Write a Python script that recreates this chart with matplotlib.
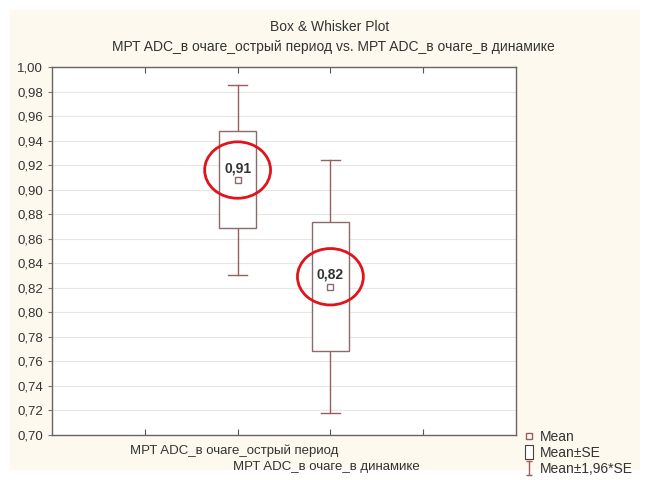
import matplotlib
matplotlib.use("Agg")
import matplotlib.pyplot as plt
from matplotlib.patches import Rectangle, Ellipse
from matplotlib.lines import Line2D
from matplotlib.path import Path
from matplotlib.transforms import blended_transform_factory
from matplotlib.ticker import FuncFormatter, MultipleLocator

plt.rcParams['font.family'] = ['Liberation Sans', 'DejaVu Sans']

# data
categories = ["МРТ ADC_в очаге_острый период", "МРТ ADC_в очаге_в динамике"]
positions = [2, 3]
means = [0.908, 0.821]
se = [0.0395, 0.0525]
mean_labels = ["0,91", "0,82"]

box_col = "#8a6a6a"
wh_col = "#9a5c5c"
txt_col = "#333333"

fig = plt.figure(figsize=(6.48, 4.8), dpi=100)
fig.patch.set_facecolor("white")
fig.patches.append(Rectangle((10/648, 10/480), 630/648, 460/480, transform=fig.transFigure,
                             facecolor="#fdf9ee", edgecolor="none", zorder=-10))

ax = fig.add_axes([52/648, 1-435/480, 464/648, 368/480])
ax.set_facecolor("white")

bw = 0.4
cw = 0.2
for x, m, s in zip(positions, means, se):
    lo2, hi2 = m - 1.96*s, m + 1.96*s
    ax.plot([x, x], [lo2, m - s], color=wh_col, lw=1, zorder=3)
    ax.plot([x, x], [m + s, hi2], color=wh_col, lw=1, zorder=3)
    ax.plot([x-cw/2, x+cw/2], [lo2, lo2], color=wh_col, lw=1, zorder=3)
    ax.plot([x-cw/2, x+cw/2], [hi2, hi2], color=wh_col, lw=1, zorder=3)
    ax.add_patch(Rectangle((x-bw/2, m - s), bw, 2*s, facecolor="white",
                           edgecolor=box_col, lw=1, zorder=3))
    ax.plot(x, m, 's', ms=4, mfc="white", mec=box_col, mew=1, zorder=4)

for x, m, lab in zip(positions, means, mean_labels):
    ax.text(x, m + 0.0095, lab, ha="center", va="center", fontsize=10,
            fontweight="bold", color=txt_col, zorder=5)
    ax.add_patch(Ellipse((x, m + 0.008), 0.71, 0.046, facecolor="none",
                         edgecolor="#e0141a", lw=2, zorder=6))

ax.set_xlim(0, 5)
ax.set_ylim(0.70, 1.00)
ax.yaxis.set_major_locator(MultipleLocator(0.02))
ax.yaxis.set_major_formatter(FuncFormatter(lambda v, p: f"{v:.2f}".replace(".", ",")))
ax.grid(axis="y", color="#e6e6e6", lw=0.8, zorder=0)
ax.set_axisbelow(True)

ax.set_xticks([1, 2, 3, 4])
ax.set_xticklabels([])
ax.tick_params(axis="x", direction="in", top=True, length=4, color="#555555")
ax.tick_params(axis="y", direction="out", length=3, color="#777777",
               labelsize=9.5, labelcolor=txt_col)
for sp in ax.spines.values():
    sp.set_color("#666666")
    sp.set_linewidth(1)

# staggered category labels
trans = blended_transform_factory(ax.transData, fig.transFigure)
for i, (x, cat) in enumerate(zip(positions, categories)):
    ax.text(x - 0.04, 1 - (451 + 16*i)/480, cat, transform=trans, ha="center", va="center",
            fontsize=9.5, color=txt_col)

fig.text(330/648, 1-27/480, "Box & Whisker Plot", ha="center", va="center",
         fontsize=10, color=txt_col)
fig.text(333/648, 1-47/480,
         "МРТ ADC_в очаге_острый период vs. МРТ ADC_в очаге_в динамике",
         ha="center", va="center", fontsize=10, color=txt_col)

ibeam = Path([(-0.5, -1), (0.5, -1), (0, -1), (0, 1), (-0.5, 1), (0.5, 1)],
             [Path.MOVETO, Path.LINETO, Path.MOVETO, Path.LINETO, Path.MOVETO, Path.LINETO])
tallbox = Path([(-0.6, -1), (0.6, -1), (0.6, 1), (-0.6, 1), (-0.6, -1)],
               [Path.MOVETO, Path.LINETO, Path.LINETO, Path.LINETO, Path.CLOSEPOLY])
handles = [
    Line2D([], [], marker='s', ls='none', ms=4, mfc="white", mec=wh_col),
    Line2D([], [], marker=tallbox, ls='none', ms=10, mfc="white", mec="#444444", mew=0.8),
    Line2D([], [], marker=ibeam, ls='none', ms=10, mfc="none", mec=wh_col, mew=1),
]
leg = fig.legend(handles, ["Mean", "Mean±SE", "Mean±1,96*SE"],
                 loc="upper left", bbox_to_anchor=(517/648, 1-424/480),
                 frameon=False, fontsize=10, handlelength=0.9, handletextpad=0.35,
                 labelspacing=0.15, borderaxespad=0, handleheight=0.6)
for t in leg.get_texts():
    t.set_color(txt_col)

fig.savefig("out.png", dpi=100, facecolor=fig.get_facecolor())
